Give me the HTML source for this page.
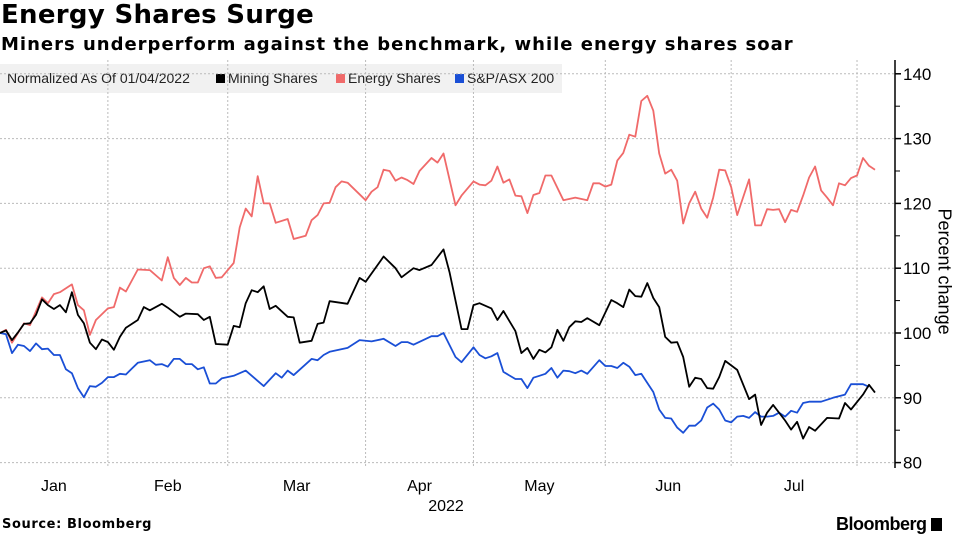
<!DOCTYPE html>
<html><head><meta charset="utf-8"><style>
body{margin:0;width:957px;height:536px;background:#fff;overflow:hidden;font-family:"Liberation Sans",sans-serif;position:relative}
.t{position:absolute;white-space:nowrap}
</style></head><body>
<div class="t" style="left:1px;top:0px;font-size:26px;font-weight:bold;color:#000;font-family:'DejaVu Sans',sans-serif;letter-spacing:0.3px">Energy Shares Surge</div>
<div class="t" style="left:1px;top:34px;font-size:18px;font-weight:bold;color:#000;font-family:'DejaVu Sans',sans-serif;letter-spacing:1px">Miners underperform against the benchmark, while energy shares soar</div>
<div style="position:absolute;left:0;top:64px;width:562px;height:29px;background:#f1f1f1"></div>
<div class="t" style="left:7px;top:70px;font-size:14px;color:#222">Normalized As Of 01/04/2022</div>
<div class="t" style="left:216px;top:70px;font-size:14px;color:#222"><span style="display:inline-block;width:9px;height:9px;background:#000;margin-right:3px"></span>Mining Shares</div>
<div class="t" style="left:336px;top:70px;font-size:14px;color:#222"><span style="display:inline-block;width:9px;height:9px;background:#f06a6a;margin-right:3px"></span>Energy Shares</div>
<div class="t" style="left:455px;top:70px;font-size:14px;color:#222"><span style="display:inline-block;width:9px;height:9px;background:#1a4fd6;margin-right:3px"></span>S&amp;P/ASX 200</div>
<svg id="chart" width="957" height="536" style="position:absolute;left:0;top:0"></svg>
<div class="t" style="left:884px;top:258px;font-size:18px;color:#000;transform:rotate(90deg);transform-origin:center;width:120px;text-align:center">Percent change</div>
<div class="t" style="left:2px;top:517px;font-size:13px;font-weight:bold;font-family:'DejaVu Sans',sans-serif;letter-spacing:0.6px">Source: Bloomberg</div>
<div class="t" style="left:836px;top:514px;font-size:18px;font-weight:bold;letter-spacing:-0.5px">Bloomberg <span style="display:inline-block;width:11px;height:13px;background:#000;vertical-align:-1px"></span></div>
<script>
const energyDays=[0,1,2,4,5,7,8,9,10,12,13,14,15,16,18,19,20,21,23,25,27,28,29,30,31,32,33,34,35,36,37,39,40,41,42,43,44,45,46,48,49,51,52,53,54,55,56,57,58,61,62,63,64,65,66,67,68,69,70,72,73,74,76,77,79,80,81,82,83,84,85,86,87,88,89,90,91,92,94,96,98,99,100,101,102,103,104,105,106,107,108,109,110,111,112,113,114,115,116,117,118,119,120,121,122,123,125,126,127,128,129,130,131,132,133,134,135,136,137,138,139,140,141,142,143,144,145,146];
const energyVals=[100,100.5,98.5,101.5,101.2,105.5,104.6,106,106.3,107.5,104.3,103.5,99.7,102,103.8,104,107,106.4,109.8,109.7,108.1,111.7,108.5,107.4,108.5,107.8,107.8,110,110.3,108.5,108.6,110.8,116.3,119.2,118,124.2,120,120,117,117.6,114.5,115,117.4,118.2,120,120.1,122.5,123.4,123.2,120.5,121.8,122.5,125.2,125,123.5,124,123.6,123,125,127,126.3,127.7,119.7,121.2,123.4,122.9,122.8,123.5,125.7,123.2,123.7,121.2,121.1,118.5,121.3,121.6,124.3,124.3,120.5,120.9,120.5,123.1,123.1,122.6,122.9,126.6,127.8,130.6,130.3,135.8,136.6,134.3,127.7,124.6,125.2,123.5,116.9,120,121.8,119.2,117.8,120.9,125.2,125.1,122.5,118.2,123.7,116.6,116.6,119.1,119,119.1,117.1,119,118.7,121.2,124,125.7,122,120.9,119.7,123.1,122.8,123.9,124.3,127,125.8,125.2];
const miningDays=[0,1,2,3,4,5,6,7,8,9,10,11,12,13,14,15,16,17,18,19,20,21,23,24,25,27,28,30,31,33,34,35,36,38,39,40,41,42,43,44,45,46,48,49,50,52,53,54,55,58,60,61,63,64,66,67,69,70,72,74,75,77,78,79,80,82,83,84,86,87,88,89,90,91,92,93,94,95,96,97,98,100,102,103,104,105,106,107,108,109,110,111,112,113,114,115,116,117,118,119,120,121,123,125,126,127,128,129,131,132,133,134,135,136,138,140,141,142,144,145,146];
const miningVals=[100,100.4,98.9,100.1,101.4,101.5,102.8,105.2,104.3,103.7,104.3,103.2,106.3,102.8,101.5,98.5,97.5,99,98.6,97.4,99.4,100.8,102,104,103.5,104.5,103.9,102.5,103,102.9,102,102.5,98.3,98.2,101.1,100.9,104.6,106.6,106.3,107.2,103.7,104.2,102.5,102.4,98.5,98.8,101.4,101.6,104.9,104.5,108.5,107.9,110.5,111.8,110,108.6,110,109.7,110.5,112.9,109.4,100.6,100.6,104.3,104.6,103.8,102,103.4,100.3,96.9,97.7,96,97.4,97,97.8,100.5,98.8,100.9,101.8,101.7,102.3,101.2,105.1,104.6,104,106.7,105.7,105.6,107.7,105.4,104,99.4,98.5,98.6,96.3,91.7,93.1,92.9,91.5,91.4,93.2,95.7,94.3,89.8,90.5,85.8,87.7,88.9,86.5,85.1,86.3,83.7,85.5,84.9,86.9,86.8,89.2,88.2,90.5,92,90.8,90.6];
const asxDays=[0,1,2,3,4,5,6,7,8,9,10,11,12,13,14,15,16,17,18,19,20,21,22,23,25,26,27,28,29,30,31,32,33,34,35,36,37,39,41,44,46,47,48,49,52,53,54,55,58,60,62,64,66,67,68,69,72,73,74,76,77,79,80,81,82,83,84,86,87,88,89,90,91,92,93,94,95,96,97,98,100,101,102,103,104,105,106,107,109,110,111,112,113,114,115,116,117,118,119,120,121,122,123,124,125,126,127,128,129,130,131,132,133,134,135,136,137,139,141,142,144,145,146];
const asxVals=[100,99.8,96.9,98.2,98,97.2,98.4,97.5,97.6,96.6,96.6,94.4,93.8,91.5,90.1,91.8,91.7,92.3,93.2,93.2,93.7,93.6,94.5,95.4,95.8,95.1,95.2,94.8,96,96,95.2,95.2,94.4,94.7,92.2,92.2,93,93.4,94.2,91.8,93.8,93.1,94.2,93.5,96,95.8,96.6,97.1,97.7,98.9,98.7,99.1,98,98.6,98.6,98.2,99.5,99.5,100,96.3,95.5,97.8,96.6,96.1,96.4,96.9,94,92.9,92.9,91.5,93.1,93.4,93.7,94.6,93.1,94.2,94.1,93.8,94.2,93.7,95.8,94.9,94.9,94.6,95.4,94.8,93.5,93.7,90.9,88.2,86.9,86.8,85.4,84.6,85.7,85.7,86.5,88.5,89.1,88.2,86.5,86.2,87.1,87.2,86.9,87.8,87.1,87.1,87.2,87.7,87.1,88,87.7,89.2,89.4,89.4,89.4,90,90.5,92.1,92.1,91.7];
const yTicks=[80,90,100,110,120,130,140];
const monthLabels=["Jan","Feb","Mar","Apr","May","Jun","Jul"];
const monthStarts=[0,18,38,61,79,101,122,143];

const NS="http://www.w3.org/2000/svg";
const svg=document.getElementById('chart');
const X0=0,X1=875,D1=146,axisX=895;
const xs=d=>X0+d*(X1-X0)/D1;
const ys=v=>333-(v-100)*6.48;
function mk(t,a){const e=document.createElementNS(NS,t);for(const k in a)e.setAttribute(k,a[k]);svg.appendChild(e);return e;}
yTicks.forEach(v=>{
  const g=mk('line',{x1:0,x2:axisX,y1:ys(v),y2:ys(v),stroke:'#bbb','stroke-dasharray':'2,2','stroke-width':1});
  
  
  const tk=mk('line',{x1:axisX,x2:axisX+6,y1:ys(v),y2:ys(v),stroke:'#000','stroke-width':1.5});
  
  
  const tx=mk('text',{x:axisX+8,y:ys(v)+6,'font-size':17,'font-family':'Liberation Sans, sans-serif',fill:'#000'});
  tx.textContent=v;
  
  
});
for(let v=85;v<140;v+=10){
  const m=mk('line',{x1:axisX,x2:axisX+5,y1:ys(v),y2:ys(v),stroke:'#000','stroke-width':1});
  
  
}
const ax=mk('line',{x1:axisX,x2:axisX,y1:60,y2:468,stroke:'#000','stroke-width':1.5});


monthStarts.forEach((d,i)=>{
  if(i>0){
    const g=mk('line',{x1:xs(d),x2:xs(d),y1:60,y2:468,stroke:'#bbb','stroke-dasharray':'2,2','stroke-width':1});
    
    
  }
  if(i<monthLabels.length){
    const tx=mk('text',{x:(xs(d)+xs(monthStarts[i+1]))/2,y:491,'font-size':16,'text-anchor':'middle','font-family':'Liberation Sans, sans-serif',fill:'#000'});
    tx.textContent=monthLabels[i];
    
    
  }
});
const yr=mk('text',{x:446,y:511,'font-size':16,'text-anchor':'middle','font-family':'Liberation Sans, sans-serif',fill:'#000'});
yr.textContent='2022';


function line(days,vals,color,name){
  const p=mk('polyline',{points:days.map((d,i)=>xs(d).toFixed(1)+','+ys(vals[i]).toFixed(1)).join(' '),fill:'none',stroke:color,'stroke-width':1.8,'stroke-linejoin':'round'});
  
  
}
line(energyDays,energyVals,'#f06a6a','energy-shares-line');
line(asxDays,asxVals,'#1a4fd6','asx200-line');
line(miningDays,miningVals,'#000','mining-shares-line');
</script>
</body></html>
